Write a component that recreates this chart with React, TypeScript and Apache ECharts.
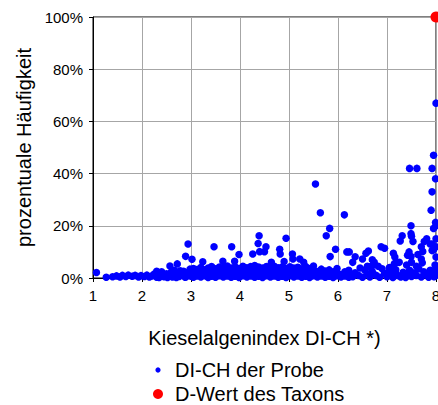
import React, { useEffect, useRef } from "react";
import * as echarts from "echarts";

// x = Kieselalgenindex DI-CH, y = prozentuale Häufigkeit (%)
const bandLow: number[][] = [
  [1.27, 0.3], [1.4, 0.5], [1.48, 0.8], [1.55, 0.4], [1.6, 1.0], [1.67, 0.6], [1.72, 1.1],
  [1.8, 0.7], [1.86, 1.0], [1.93, 0.4], [1.98, 0.9], [2.05, 0.6], [2.1, 1.1], [2.15, 0.4],
  [2.2, 0.8], [2.25, 1.5], [2.3, 0.3], [2.33, 2.0], [2.4, 1.0], [2.45, 0.5], [2.5, 1.6],
  [2.55, 0.9], [2.6, 2.3], [2.62, 0.4], [2.68, 1.2], [2.72, 2.0], [2.76, 0.6], [2.8, 1.5],
  [2.85, 2.6], [2.88, 0.3], [2.92, 1.1], [2.96, 2.2], [3.0, 0.7], [2.35, 0.2], [2.52, 0.2],
  [2.7, 0.2], [2.9, 0.5], [2.4, 2.4], [2.6, 1.0], [2.78, 2.8], [2.98, 3.4], [2.66, 3.0],
];

const bandMid: number[][] = [
  [3.05, 0.3], [3.05, 1.5], [3.05, 2.8], [3.05, 3.6],
  [3.12, 0.8], [3.12, 2.0], [3.12, 3.2],
  [3.2, 0.4], [3.2, 1.3], [3.2, 2.5], [3.2, 4.0],
  [3.28, 0.9], [3.28, 1.9], [3.28, 3.1],
  [3.35, 0.2], [3.35, 1.4], [3.35, 2.6], [3.35, 3.8],
  [3.42, 0.7], [3.42, 2.1], [3.42, 3.3], [3.42, 4.4],
  [3.5, 0.3], [3.5, 1.2], [3.5, 2.4], [3.5, 3.5],
  [3.58, 0.9], [3.58, 1.8], [3.58, 3.0], [3.58, 4.2],
  [3.66, 0.4], [3.66, 1.5], [3.66, 2.7], [3.66, 3.7],
  [3.74, 0.8], [3.74, 2.1], [3.74, 3.3], [3.74, 4.6],
  [3.82, 0.3], [3.82, 1.2], [3.82, 2.5], [3.82, 3.8],
  [3.9, 0.7], [3.9, 1.9], [3.9, 3.1], [3.9, 4.3],
  [3.98, 0.2], [3.98, 1.4], [3.98, 2.6], [3.98, 3.6],
  [4.06, 0.9], [4.06, 2.0], [4.06, 3.2], [4.06, 4.5],
  [4.14, 0.4], [4.14, 1.3], [4.14, 2.7], [4.14, 3.9],
  [4.22, 0.8], [4.22, 1.9], [4.22, 3.0], [4.22, 4.4],
  [4.3, 0.3], [4.3, 1.5], [4.3, 2.5], [4.3, 3.6], [4.3, 4.8],
  [4.38, 0.7], [4.38, 2.0], [4.38, 3.3], [4.38, 4.2],
  [4.46, 0.2], [4.46, 1.2], [4.46, 2.6], [4.46, 3.8],
  [4.54, 0.9], [4.54, 1.8], [4.54, 3.1], [4.54, 4.4],
  [4.62, 0.4], [4.62, 1.4], [4.62, 2.7], [4.62, 3.7],
  [4.7, 0.8], [4.7, 2.1], [4.7, 3.2], [4.7, 4.5],
  [4.78, 0.3], [4.78, 1.3], [4.78, 2.5], [4.78, 3.9],
  [4.86, 0.7], [4.86, 1.9], [4.86, 3.0], [4.86, 4.2],
  [4.94, 0.2], [4.94, 1.5], [4.94, 2.8], [4.94, 3.6],
  [5.02, 0.9], [5.02, 2.0], [5.02, 3.3], [5.02, 4.3],
  [5.1, 0.4], [5.1, 1.2], [5.1, 2.6], [5.1, 3.8],
  [5.18, 0.8], [5.18, 1.8], [5.18, 3.0], [5.18, 4.1],
  [5.26, 0.3], [5.26, 1.4], [5.26, 2.5], [5.26, 3.5],
  [5.34, 0.7], [5.34, 2.0], [5.34, 3.2], [5.34, 4.4],
  [5.42, 0.2], [5.42, 1.3], [5.42, 2.7], [5.42, 3.6],
  [5.5, 0.9], [5.5, 1.9], [5.5, 3.0], [5.5, 4.6],
  [5.58, 0.4], [5.58, 1.5], [5.58, 2.5],
  [5.66, 0.8], [5.66, 2.2], [5.66, 3.4],
  [5.74, 0.3], [5.74, 1.3], [5.74, 2.7],
  [5.82, 0.7], [5.82, 1.8], [5.82, 3.1],
  [5.9, 0.2], [5.9, 1.4], [5.9, 2.4],
  [5.98, 0.9], [5.98, 2.0], [5.98, 3.6],
  [6.06, 0.4], [6.06, 1.3],
  [6.14, 0.8], [6.14, 2.4],
  [6.22, 0.3], [6.22, 1.6], [6.22, 3.0],
];

const bandHigh: number[][] = [
  [6.3, 0.5], [6.35, 2.0], [6.42, 1.0], [6.5, 0.3], [6.55, 3.0], [6.6, 1.5], [6.65, 0.4],
  [6.7, 2.5], [6.78, 1.0], [6.85, 0.3], [6.9, 3.5], [6.95, 1.8], [7.0, 0.5], [7.05, 2.8],
  [7.08, 4.0], [7.1, 1.2], [7.12, 0.2], [7.18, 3.2], [7.22, 1.0], [7.28, 0.4], [7.33, 2.2],
  [7.38, 0.2], [7.42, 1.5], [7.46, 3.0], [7.5, 0.6], [7.55, 2.0], [7.6, 1.0], [7.65, 3.5],
  [7.7, 0.4], [7.75, 2.4], [7.8, 1.2], [7.85, 0.3], [7.88, 3.0], [7.92, 1.5], [7.96, 0.5],
  [7.98, 2.5], [8.0, 1.0], [8.0, 4.0], [7.02, 1.8], [6.82, 4.5], [7.25, 6.0], [7.15, 5.5],
  [6.72, 5.0], [6.6, 4.2], [6.45, 3.8], [7.6, 4.5], [7.72, 5.8], [7.4, 5.0],
];

const outliers: number[][] = [
  [1.07, 2.1], [2.3, 2.6], [2.57, 4.6], [2.72, 5.4], [2.89, 8.3], [2.94, 13.0], [3.02, 7.2],
  [3.24, 6.2], [3.47, 12.0], [3.65, 6.4], [3.83, 12.0], [3.89, 6.4], [3.98, 9.0], [4.26, 9.2],
  [4.37, 13.2], [4.39, 16.2], [4.4, 10.1], [4.5, 10.1], [4.53, 12.0], [4.64, 6.0], [4.81, 11.0],
  [4.82, 9.2], [4.9, 6.3], [4.94, 15.2], [5.07, 9.2], [5.08, 7.3], [5.22, 7.3], [5.3, 6.0],
  [5.54, 36.0], [5.64, 25.0], [5.76, 16.2], [5.83, 19.0], [5.84, 8.2], [5.95, 11.0],
  [6.13, 24.2], [6.18, 10.0], [6.23, 10.0], [6.35, 8.1], [6.5, 7.3], [6.57, 9.5], [6.62, 10.3],
  [6.7, 7.0], [6.74, 6.0], [6.88, 12.0], [6.95, 11.4], [7.13, 9.5], [7.16, 8.0], [7.2, 6.0],
  [7.27, 14.2], [7.31, 16.2], [7.45, 10.0], [7.49, 20.0], [7.49, 17.0], [7.5, 16.0],
  [7.53, 14.0], [7.46, 42.0], [7.61, 42.0], [7.63, 9.0], [7.7, 12.0], [7.73, 10.2],
  [7.76, 14.0], [7.81, 15.0], [7.88, 13.0], [7.92, 10.5], [7.92, 42.0], [7.92, 33.0],
  [7.9, 26.0], [7.95, 47.0], [7.99, 38.0], [7.99, 21.3], [7.95, 19.0], [8.0, 67.0],
  [7.42, 8.7], [7.49, 8.2], [7.5, 6.0], [7.7, 7.3], [7.95, 10.8], [7.92, 13.0], [8.0, 15.0],
  [8.0, 12.0], [8.0, 8.0], [7.98, 5.0], [8.0, 20.0], [6.3, 6.0], [6.6, 4.5], [6.67, 4.4],
  [7.05, 4.0], [7.1, 3.0], [7.15, 2.6],
];

const taxonValue: number[][] = [[8.0, 100.0]];

const xTicks = { min: 1, max: 8, interval: 1 };
const yTicks = { min: 0, max: 100, interval: 20 };

const seriesNames = ["DI-CH der Probe", "D-Wert des Taxons"];
const axisNames = ["Kieselalgenindex DI-CH *)", "prozentuale Häufigkeit"];

const FONT = "'Liberation Sans', Arial, Helvetica, sans-serif";

export default function App() {
  const ref = useRef<HTMLDivElement>(null);
  useEffect(() => {
    if (!ref.current) return;
    const chart = echarts.init(ref.current, undefined, { renderer: "svg" });
    const probe = [...bandLow, ...bandMid, ...bandHigh, ...outliers];
    chart.setOption({
      animation: false,
      backgroundColor: "#ffffff",
      grid: {
        left: 93,
        right: 2,
        top: 17,
        bottom: 127,
        outerBoundsMode: "none",
        containLabel: false,
        show: true,
        borderColor: "#000000",
        borderWidth: 1,
        backgroundColor: "transparent",
      },
      xAxis: {
        type: "value",
        min: xTicks.min,
        max: xTicks.max,
        interval: xTicks.interval,
        name: axisNames[0],
        nameLocation: "middle",
        nameGap: 50,
        nameTextStyle: { fontFamily: FONT, fontSize: 20, color: "#000" },
        axisLine: { show: true, onZero: false, lineStyle: { color: "#000", width: 1 } },
        axisTick: { show: true, length: 4, lineStyle: { color: "#000" } },
        axisLabel: { fontFamily: FONT, fontSize: 15, color: "#000", margin: 10 },
        splitLine: { show: true, lineStyle: { color: "#a6a6a6", width: 1 } },
      },
      yAxis: {
        type: "value",
        min: yTicks.min,
        max: yTicks.max,
        interval: yTicks.interval,
        name: axisNames[1],
        nameLocation: "middle",
        nameGap: 55,
        nameRotate: 90,
        nameTextStyle: { fontFamily: FONT, fontSize: 20, color: "#000" },
        axisLine: { show: true, onZero: false, lineStyle: { color: "#000", width: 1 } },
        axisTick: { show: true, length: 4, lineStyle: { color: "#000" } },
        axisLabel: {
          fontFamily: FONT,
          fontSize: 15,
          color: "#000",
          margin: 10,
          formatter: "{value}%",
        },
        splitLine: { show: true, lineStyle: { color: "#a6a6a6", width: 1 } },
      },
      series: [
        {
          name: seriesNames[0],
          type: "scatter",
          data: probe,
          symbol: "circle",
          symbolSize: 7.5,
          itemStyle: { color: "#0000ff", opacity: 1 },
          clip: false,
          z: 3,
        },
        {
          name: seriesNames[1],
          type: "scatter",
          data: taxonValue,
          symbol: "circle",
          symbolSize: 11,
          itemStyle: { color: "#ff0000", opacity: 1 },
          clip: false,
          z: 4,
        },
      ],
      graphic: [
        { type: "circle", shape: { cx: 158, cy: 370, r: 2.6 }, style: { fill: "#0000ff" } },
        {
          type: "text",
          x: 175,
          y: 370,
          style: {
            text: seriesNames[0],
            fontFamily: FONT,
            fontSize: 20,
            fill: "#000",
            align: "left",
            verticalAlign: "middle",
          },
        },
        { type: "circle", shape: { cx: 158, cy: 394, r: 5 }, style: { fill: "#ff0000" } },
        {
          type: "text",
          x: 175,
          y: 394,
          style: {
            text: seriesNames[1],
            fontFamily: FONT,
            fontSize: 20,
            fill: "#000",
            align: "left",
            verticalAlign: "middle",
          },
        },
      ],
    });
    return () => chart.dispose();
  }, []);
  return (
    <div
      ref={ref}
      style={{ position: "fixed", left: 0, top: 0, width: 438, height: 405, background: "#fff" }}
    />
  );
}
